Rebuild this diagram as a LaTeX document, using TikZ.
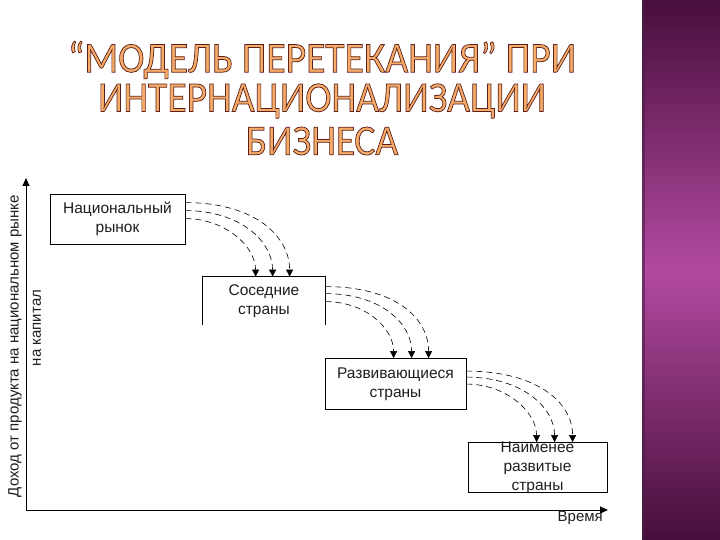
\documentclass[tikz,border=0pt]{standalone}
\usepackage{fontspec}
\setmainfont{Liberation Sans}
\newfontfamily\titlefont{Carlito}
\usetikzlibrary{arrows.meta,calc}
\definecolor{titlefill}{RGB}{246,172,104}
\definecolor{barTop}{RGB}{72,14,60}
\definecolor{barMid}{RGB}{178,74,160}
\definecolor{barBot}{RGB}{70,14,58}
\definecolor{txt}{RGB}{30,30,30}
\newcommand{\outlined}[1]{{\color{titlefill}\special{pdf:literal direct 2 Tr 0.75 w 0.36 0.12 0.1 RG}#1\special{pdf:literal direct 0 Tr}}}
\tikzset{
  box/.style={draw=black, line width=0.8pt, minimum width=#1, minimum height=50pt, inner sep=0pt},
  boxtext/.style={font=\fontsize{15.5}{19}\selectfont, text=txt, align=center, inner sep=0pt},
  flow/.style={dashed, dash pattern=on 6pt off 4pt, line width=0.6pt, -{Triangle[length=7pt,width=7pt]}},
  axis/.style={line width=1pt, -{Triangle[length=8pt,width=7pt]}},
  titletext/.style={font=\titlefont\fontsize{43}{43}\selectfont, inner sep=0pt, xscale=0.92}
}
\begin{document}
\begin{tikzpicture}[x=1pt,y=-1pt]
\useasboundingbox (0,0) rectangle (720,540);
\fill[white] (0,0) rectangle (720,540);
% purple bar
\shade[top color=barTop, bottom color=barBot, middle color=barMid] (642,0) rectangle (720,540);
\fill[black!60!barMid, opacity=0.6] (642,0) rectangle (645,540);

% axes
\coordinate (origin) at (26,510);
\coordinate (ytip) at (26,178);
\coordinate (xtip) at (608,510);
\draw[axis] (origin) -- (ytip);
\draw[axis] (origin) -- (xtip);
\node[font=\fontsize{15}{15}\selectfont, text=txt, rotate=90, inner sep=0pt] (ylab1) at (15,346) {Доход от продукта на национальном рынке};
\node[font=\fontsize{15}{15}\selectfont, text=txt, rotate=90, inner sep=0pt] (ylab2) at (37,328) {на капитал};
\node[font=\fontsize{15}{15}\selectfont, text=txt, anchor=east, inner sep=0pt] (xlab) at (603,518) {Время};

% boxes
\node[box=135pt] (b1) at (117.5,219) {};
\node[box=122pt, draw=none, minimum height=48pt] (b2) at (264,301) {};
\draw[line width=0.8pt] (b2.south west) -- (b2.north west) -- (b2.north east) -- (b2.south east);
\node[box=141pt, minimum height=51pt] (b3) at (395.5,384) {};
\node[box=139pt] (b4) at (537.5,467.5) {};

\node[boxtext] (t1) at (b1) {Национальный\\рынок};
\node[boxtext] (t2) at (b2) {Соседние\\страны};
\node[boxtext] (t3) at (b3) {Развивающиеся\\страны};
\node[boxtext] (t4) at (b4) {Наименее\\развитые\\страны};

% flows b1 -> b2
\draw[flow] ($(b1.north east)+(0,9)$) .. controls ($(b1.north east)+(70,9)$) and ($(b2.north west)+(87,-40)$) .. ($(b2.north west)+(87,0)$);
\draw[flow] ($(b1.north east)+(0,17)$) .. controls ($(b1.north east)+(55,17)$) and ($(b2.north west)+(70,-35)$) .. ($(b2.north west)+(70,0)$);
\draw[flow] ($(b1.north east)+(0,25)$) .. controls ($(b1.north east)+(40,25)$) and ($(b2.north west)+(53,-30)$) .. ($(b2.north west)+(53,0)$);
% flows b2 -> b3
\draw[flow] ($(b2.north east)+(0,10)$) .. controls ($(b2.north east)+(70,10)$) and ($(b3.north west)+(104,-40)$) .. ($(b3.north west)+(104,0)$);
\draw[flow] ($(b2.north east)+(0,17)$) .. controls ($(b2.north east)+(55,17)$) and ($(b3.north west)+(87,-35)$) .. ($(b3.north west)+(87,0)$);
\draw[flow] ($(b2.north east)+(0,25)$) .. controls ($(b2.north east)+(40,25)$) and ($(b3.north west)+(69,-30)$) .. ($(b3.north west)+(69,0)$);
% flows b3 -> b4
\draw[flow] ($(b3.north east)+(0,13)$) .. controls ($(b3.north east)+(70,13)$) and ($(b4.north west)+(105,-40)$) .. ($(b4.north west)+(105,0)$);
\draw[flow] ($(b3.north east)+(0,19)$) .. controls ($(b3.north east)+(55,19)$) and ($(b4.north west)+(87,-35)$) .. ($(b4.north west)+(87,0)$);
\draw[flow] ($(b3.north east)+(0,26)$) .. controls ($(b3.north east)+(40,26)$) and ($(b4.north west)+(69,-30)$) .. ($(b4.north west)+(69,0)$);

% title
\node[titletext] (title1) at (322,60) {\outlined{“МОДЕЛЬ ПЕРЕТЕКАНИЯ” ПРИ}};
\node[titletext] (title2) at (322,101) {\outlined{ИНТЕРНАЦИОНАЛИЗАЦИИ}};
\node[titletext] (title3) at (322,141) {\outlined{БИЗНЕСА}};
\end{tikzpicture}
\end{document}
